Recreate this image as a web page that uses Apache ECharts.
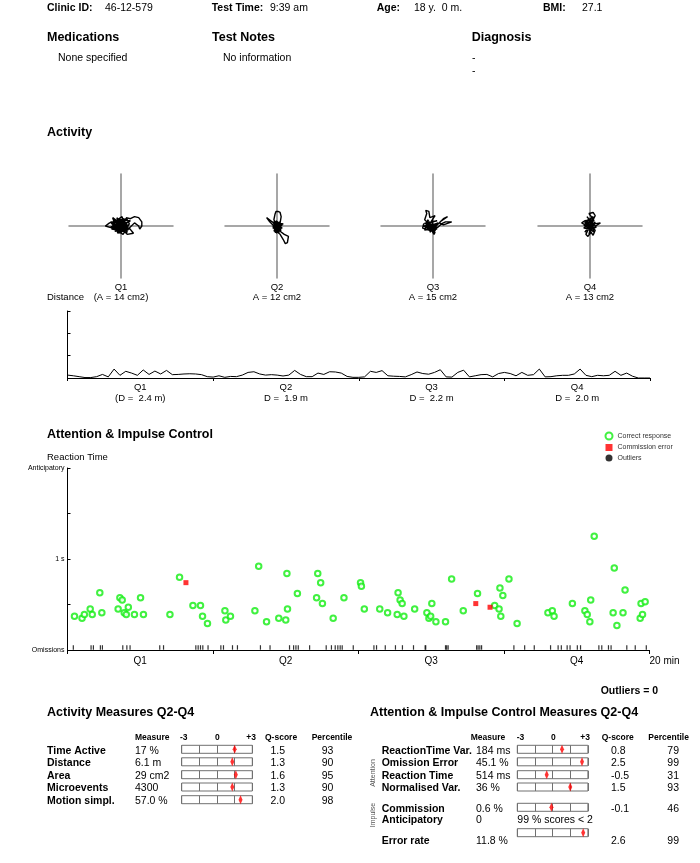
<!DOCTYPE html>
<html><head><meta charset="utf-8">
<script src="https://cdn.jsdelivr.net/npm/echarts@6/dist/echarts.min.js"></script>
<style>html,body{margin:0;padding:0;background:#fff}#c{width:700px;height:863px}</style>
</head><body><div id="c"></div>
<script>
// ---------------- DATA ----------------
const quarters = ['Q1', 'Q2', 'Q3', 'Q4'];
const areaCm2 = [14, 12, 15, 13];
const distanceM = [2.4, 1.9, 2.2, 2.0];

// head movement traces per quarter (x right, y up)
const traceQ1 = [[0,0],[-5,4],[3,7],[-2,-4],[7,-1],[-9,2],[1,9],[6,-6],[-6,-3],[9,5],[-1,6],[-11,3],[-15,0],[-8,-2],[2,-8],[8,2],[5,8],[9,7],[13,9],[17,8],[20,4],[20,0],[18,-3],[17,0],[13,3],[8,-2],[12,-7],[6,-8],[1,-3],[-4,5],[-8,8],[-3,-7],[3,3],[7,-4],[-4,1],[4,5],[-7,-1],[0,-5],[4,1],[-6,6],[-2,-2],[5,-3],[-10,-1],[2,4],
  [-10,4],[-3,-6],[6,3],[-7,6],[4,-5],[-9,-3],[2,6],[-5,0],[7,1],[-2,-7],[5,7],[-8,2],[0,4],[3,-2],[-6,-5],[8,-3],[-4,8],[1,-6],[-7,3],[3,5],[-1,-3],[6,-1],[-5,-2],[0,2]];
const traceQ2 = [[0,0],[-3,6],[-2,11],[-1,14],[1,14],[3,13],[4,9],[3,3],[-2,2],[-6,5],[-10,8],[-7,4],[-1,-2],[3,-5],[7,-8],[11,-10],[10,-16],[8,-17],[6,-13],[3,-8],[-2,-4],[3,1],[-3,-3],[5,-2],[-4,4],[2,-6],[-2,-1],[6,2],[1,3],[-3,-5],[4,-1],[-1,-7],[2,-3],
  [-4,-2],[3,4],[-2,-6],[4,-4],[-3,2],[1,-2],[5,1],[-1,5],[2,-7],[-4,0],[3,-1],[0,3]];
const traceQ3 = [[0,0],[-5,3],[-8,6],[-6,12],[-7,15],[-4,14],[-3,8],[2,10],[-2,4],[4,5],[-9,2],[-10,-2],[-4,-4],[2,-6],[1,-8],[-2,-3],[5,-1],[8,2],[12,4],[18,4],[10,1],[6,3],[10,7],[14,9],[8,5],[3,0],[-2,-5],[-6,-2],[0,2],[4,-3],[-3,1],[1,-4],[-5,6],[-8,-4],[3,-2],
  [-6,4],[2,-5],[-9,0],[4,2],[-3,-6],[0,5],[-7,-1],[5,3],[-4,-2],[1,1],[-8,3],[3,-4]];
const traceQ4 = [[0,0],[-3,4],[2,8],[-1,12],[3,13],[5,10],[3,6],[-5,5],[-8,3],[-3,0],[4,2],[10,3],[4,-1],[-2,-4],[-4,-8],[-2,-10],[1,-6],[3,-9],[5,-4],[-1,2],[-6,-2],[2,-3],[6,-1],[-3,9],[1,4],[-2,-2],[-5,-6],[4,6],
  [-4,2],[3,-2],[-2,7],[4,-6],[-6,1],[2,1],[-3,-5],[5,4],[-1,-8],[3,9],[-5,3],[1,-3]];

// distance trace, one value every 0.2 min over 20 min
const distanceTrace = [0.13,0.10,0.06,0.02,0.02,0.06,0.16,0.05,0.40,0.12,0.30,0.22,0.12,0.36,0.16,0.31,0.18,0.34,0.15,0.16,
0.18,0.19,0.18,0.15,0.06,0.04,0.10,0.03,0.07,0.06,0.13,0.25,0.28,0.18,0.13,0.15,0.13,0.09,0.13,0.34,
0.16,0.06,0.06,0.22,0.16,0.28,0.27,0.22,0.07,0.03,0.03,0.05,0.30,0.25,0.33,0.10,0.08,0.07,0.05,0.15,
0.27,0.20,0.17,0.25,0.37,0.05,0.04,0.25,0.35,0.05,0.10,0.15,0.16,0.05,0.20,0.25,0.20,0.10,0.25,0.12,
0.15,0.40,0.05,0.06,0.10,0.12,0.12,0.18,0.40,0.12,0.06,0.12,0.10,0.12,0.30,0.12,0.22,0.08,0.0,0.0,0.0];

// reaction times: [minute, seconds]
const correctResponses = [[0.24,0.37],[0.50,0.35],[0.58,0.39],[0.78,0.45],[0.85,0.39],[1.11,0.63],[1.18,0.41],[1.74,0.45],[1.80,0.575],[1.88,0.55],[1.95,0.41],[2.02,0.39],[2.09,0.47],[2.30,0.39],[2.51,0.575],[2.61,0.39],[3.52,0.39],[3.85,0.80],[4.31,0.49],[4.57,0.49],[4.64,0.37],[4.81,0.29],[5.41,0.43],[5.44,0.33],[5.60,0.37],[6.44,0.43],[6.57,0.92],[6.84,0.31],[7.26,0.35],[7.50,0.33],[7.54,0.84],[7.56,0.45],[7.90,0.62],[8.56,0.575],[8.60,0.84],[8.70,0.74],[8.76,0.51],[9.13,0.35],[9.50,0.575],[10.07,0.74],[10.10,0.70],[10.20,0.45],[10.73,0.45],[11.00,0.41],[11.33,0.39],[11.36,0.63],[11.43,0.55],[11.50,0.51],[11.56,0.37],[11.93,0.45],[12.35,0.41],[12.42,0.35],[12.48,0.37],[12.52,0.51],[12.66,0.31],[12.99,0.31],[13.20,0.78],[13.60,0.43],[14.09,0.62],[14.68,0.49],[14.83,0.45],[14.86,0.68],[14.89,0.37],[14.96,0.60],[15.17,0.78],[15.45,0.29],[16.51,0.41],[16.66,0.43],[16.72,0.37],[17.35,0.51],[17.78,0.43],[17.86,0.39],[17.95,0.31],[17.98,0.55],[18.10,1.25],[18.75,0.41],[18.79,0.90],[18.88,0.27],[19.09,0.41],[19.16,0.66],[19.68,0.35],[19.71,0.51],[19.76,0.39],[19.85,0.53]];
const commissionErrors = [[4.07,0.74],[14.03,0.51],[14.52,0.47]];
const outliers = [];
const omissionMinutes = [0.20,0.81,0.89,1.13,1.20,1.90,2.04,2.15,3.17,3.30,4.41,4.49,4.57,4.65,4.83,5.27,5.36,5.67,5.84,6.63,6.96,7.63,7.77,7.85,7.93,8.32,8.89,9.07,9.20,9.29,9.37,9.44,9.82,10.53,10.62,10.92,11.27,11.51,11.89,12.29,12.31,12.99,13.03,13.08,14.06,14.11,14.17,14.23,15.34,15.71,16.04,16.60,16.86,16.97,17.17,17.27,17.52,17.63,18.26,18.36,18.59,18.68,19.22,19.51,19.89];

// activity measures table
const actLabels = ['Time Active', 'Distance', 'Area', 'Microevents', 'Motion simpl.'];
const actMeasures = ['17 %', '6.1 m', '29 cm2', '4300', '57.0 %'];
const actQ = [1.5, 1.3, 1.6, 1.3, 2.0];
const actPct = [93, 90, 95, 90, 98];

// attention & impulse measures table
const attLabels = ['ReactionTime Var.', 'Omission Error', 'Reaction Time', 'Normalised Var.', 'Commission', 'Anticipatory', 'Error rate'];
const attMeasures = ['184 ms', '45.1 %', '514 ms', '36 %', '0.6 %', '0', '11.8 %'];
const attQ = [0.8, 2.5, -0.5, 1.5, -0.1, null, 2.6];
const attPct = [79, 99, 31, 93, 46, null, 99];
const outlierCount = 0;

// ---------------- LAYOUT ----------------
const FONT = '"Liberation Sans", Arial, sans-serif';
const quadLeft = [69, 225, 381, 538];
const quadCx = [121, 277, 433, 590];
const actRowY = [751, 763.3, 776, 788.3, 801];
const actBoxY = [749.3, 761.8, 774.7, 787, 799.7];
const attRowY = [751, 763.3, 776, 788.3, 809, 820, 840.7];
const attBoxY = [749.3, 761.8, 774.7, 787, 807.3, null, 832.7];

function T(text, x, y, size, bold, align, color, extra) {
  const el = {
    type: 'text', silent: true,
    style: {
      text: String(text), x: x, y: y,
      font: (bold ? 'bold ' : '') + size + 'px ' + FONT,
      fill: color || '#000', textAlign: align || 'left', textVerticalAlign: 'middle'
    }
  };
  if (extra) Object.assign(el, extra);
  return el;
}

const graphics = [];
// header
graphics.push(T('Clinic ID:', 47, 8.5, 10.5, true), T('46-12-579', 105, 8.5, 10.5),
  T('Test Time:', 211.7, 8.5, 10.5, true), T('9:39 am', 270, 8.5, 10.5),
  T('Age:', 376.7, 8.5, 10.5, true), T('18 y.  0 m.', 414, 8.5, 10.5),
  T('BMI:', 543, 8.5, 10.5, true), T('27.1', 582, 8.5, 10.5));
graphics.push(T('Medications', 47, 38, 12.5, true), T('Test Notes', 212, 38, 12.5, true), T('Diagnosis', 471.7, 38, 12.5, true),
  T('None specified', 58, 58, 10.5), T('No information', 223, 58, 10.5), T('-', 472, 58, 10.5), T('-', 472, 71, 10.5));
graphics.push(T('Activity', 47, 133, 12.5, true));
for (let i = 0; i < 4; i++) {
  graphics.push(T(quarters[i], quadCx[i], 287, 9.5, false, 'center'));
  const a = 'A = ' + areaCm2[i] + ' cm2';
  graphics.push(T(i === 0 ? '(' + a + ')' : a, quadCx[i], 297, 9.5, false, 'center'));
}
graphics.push(T('Distance', 47, 297, 9.5));
graphics.push(T('Attention & Impulse Control', 47, 435, 12.5, true));
graphics.push(T('Reaction Time', 47, 457, 9.5));
graphics.push(T('Outliers = ' + outlierCount, 600.7, 691, 10.5, true));
// tables
graphics.push(T('Activity Measures Q2-Q4', 47, 713, 12.5, true));
graphics.push(T('Measure', 135, 738, 8.5, true), T('-3', 180, 738, 8.5, true), T('0', 217.3, 738, 8.5, true, 'center'),
  T('+3', 256, 738, 8.5, true, 'right'), T('Q-score', 265, 738, 8.5, true), T('Percentile', 311.7, 738, 8.5, true));
for (let i = 0; i < actLabels.length; i++) {
  graphics.push(T(actLabels[i], 47, actRowY[i], 10.5, true), T(actMeasures[i], 135, actRowY[i], 10.5),
    T(actQ[i].toFixed(1), 270.5, actRowY[i], 10.5), T(actPct[i], 321.7, actRowY[i], 10.5));
}
graphics.push(T('Attention & Impulse Control Measures Q2-Q4', 370, 713, 12.5, true));
graphics.push(T('Measure', 470.7, 738, 8.5, true), T('-3', 516.7, 738, 8.5, true), T('0', 553.3, 738, 8.5, true, 'center'),
  T('+3', 590, 738, 8.5, true, 'right'), T('Q-score', 601.7, 738, 8.5, true), T('Percentile', 648.3, 738, 8.5, true));
for (let i = 0; i < attLabels.length; i++) {
  graphics.push(T(attLabels[i], 381.7, attRowY[i], 10.5, true), T(attMeasures[i], 476, attRowY[i], 10.5));
  if (attQ[i] !== null) graphics.push(T(attQ[i].toFixed(1), 611, attRowY[i], 10.5), T(attPct[i], 667.3, attRowY[i], 10.5));
}
graphics.push(T('99 % scores < 2', 517.3, 820, 10.5));
graphics.push(T('Attention', 0, 0, 7, false, 'center', '#555', { x: 372.7, y: 773, rotation: Math.PI / 2 }));
graphics.push(T('Impulse', 0, 0, 7, false, 'center', '#555', { x: 372.7, y: 815, rotation: Math.PI / 2 }));

// ---------------- CHART ----------------
const grids = [], xAxes = [], yAxes = [], series = [];
const traces = [traceQ1, traceQ2, traceQ3, traceQ4];
const gray = '#8a8a8a';
for (let i = 0; i < 4; i++) {
  grids.push({ left: quadLeft[i], top: 174, width: 104, height: 104 });
  xAxes.push({ gridIndex: i, type: 'value', min: -50, max: 50, axisLine: { onZero: true, lineStyle: { color: gray, width: 1.5 } },
    axisTick: { show: false }, axisLabel: { show: false }, splitLine: { show: false } });
  yAxes.push({ gridIndex: i, type: 'value', min: -50, max: 50, axisLine: { onZero: true, lineStyle: { color: gray, width: 1.5 } },
    axisTick: { show: false }, axisLabel: { show: false }, splitLine: { show: false } });
  series.push({ type: 'line', xAxisIndex: i, yAxisIndex: i, data: traces[i], symbol: 'none', silent: true,
    lineStyle: { color: '#000', width: 1.4 } });
}
// distance trace (grid 4)
grids.push({ left: 67.5, top: 311, width: 582.5, height: 67 });
xAxes.push({ gridIndex: 4, type: 'value', min: 0, max: 20,
  axisLine: { lineStyle: { color: '#000', width: 1 } },
  axisTick: { customValues: [0, 5, 10, 15, 20], length: 3, lineStyle: { color: '#000' } },
  axisLabel: { customValues: [2.5, 7.5, 12.5, 17.5], color: '#000', fontSize: 9.5, lineHeight: 11, margin: 4, fontFamily: FONT,
    formatter: v => { const k = Math.floor(v / 5); const d = 'D =  ' + distanceM[k].toFixed(1) + ' m'; return quarters[k] + '\n' + (k === 0 ? '(' + d + ')' : d); } },
  splitLine: { show: false } });
yAxes.push({ gridIndex: 4, type: 'value', min: 0, max: 3, interval: 1,
  axisLine: { show: true, lineStyle: { color: '#000', width: 1 } },
  axisTick: { show: true, inside: true, length: 3, lineStyle: { color: '#000' } },
  axisLabel: { show: false }, splitLine: { show: false } });
series.push({ type: 'line', xAxisIndex: 4, yAxisIndex: 4, symbol: 'none', silent: true,
  data: distanceTrace.map((v, i) => [i * 0.2, v]), lineStyle: { color: '#000', width: 1 } });

// attention scatter (grid 5)
grids.push({ left: 67.5, top: 468, width: 582, height: 182 });
xAxes.push({ gridIndex: 5, type: 'value', min: 0, max: 20,
  name: '20 min', nameLocation: 'end', nameGap: 0,
  nameTextStyle: { color: '#000', fontSize: 10, fontFamily: FONT, align: 'left', verticalAlign: 'top', padding: [6, 0, 0, 0] },
  axisLine: { lineStyle: { color: '#000', width: 1 } },
  axisTick: { customValues: [0, 5, 10, 15, 20], length: 4, lineStyle: { color: '#000' } },
  axisLabel: { customValues: [2.5, 7.5, 12.5, 17.5], color: '#000', fontSize: 10, margin: 6, fontFamily: FONT,
    formatter: v => quarters[Math.floor(v / 5)] },
  splitLine: { show: false } });
yAxes.push({ gridIndex: 5, type: 'value', min: 0, max: 2, interval: 0.5,
  axisLine: { show: true, lineStyle: { color: '#000', width: 1 } },
  axisTick: { show: true, inside: true, length: 3, lineStyle: { color: '#000' } },
  axisLabel: { color: '#000', fontSize: 7, margin: 3, fontFamily: FONT,
    formatter: v => v === 0 ? 'Omissions' : v === 1 ? '1 s' : v === 2 ? 'Anticipatory' : '' },
  splitLine: { show: false } });
series.push({ name: 'Omissions', type: 'scatter', xAxisIndex: 5, yAxisIndex: 5, symbol: 'rect', symbolSize: [1.2, 4.5], silent: true,
  itemStyle: { color: '#000' }, data: omissionMinutes.map(m => [m, 0.028]) });
series.push({ name: 'Correct response', type: 'scatter', xAxisIndex: 5, yAxisIndex: 5, symbol: 'emptyCircle', symbolSize: 5.5, silent: true,
  itemStyle: { color: '#12ee12', borderWidth: 1.2 }, data: correctResponses });
series.push({ name: 'Commission error', type: 'scatter', xAxisIndex: 5, yAxisIndex: 5, symbol: 'rect', symbolSize: 5, silent: true,
  itemStyle: { color: '#ff0000' }, data: commissionErrors });
series.push({ name: 'Outliers', type: 'scatter', xAxisIndex: 5, yAxisIndex: 5, symbol: 'circle', symbolSize: 5, silent: true,
  itemStyle: { color: '#000' }, data: outliers });

// q-score boxes
function addBox(left, cy, q) {
  const gi = grids.length;
  grids.push({ left: left, top: cy - 4, width: 70.6, height: 8, show: true, borderColor: '#707070', borderWidth: 1, backgroundColor: '#fff' });
  xAxes.push({ gridIndex: gi, type: 'value', min: -3, max: 3, interval: 1.5, axisLine: { show: false }, axisTick: { show: false },
    axisLabel: { show: false }, splitLine: { show: true, lineStyle: { color: '#707070', width: 1 } } });
  yAxes.push({ gridIndex: gi, type: 'value', min: -1, max: 1, show: false, splitLine: { show: false } });
  series.push({ type: 'scatter', xAxisIndex: gi, yAxisIndex: gi, symbol: 'diamond', symbolSize: [4, 9], silent: true,
    itemStyle: { color: '#ff0000' }, data: [[q, 0]] });
}
for (let i = 0; i < actQ.length; i++) addBox(181.7, actBoxY[i], actQ[i]);
for (let i = 0; i < attQ.length; i++) if (attQ[i] !== null) addBox(517.3, attBoxY[i], attQ[i]);

const chart = echarts.init(document.getElementById('c'), null, { renderer: 'canvas' });
chart.setOption({
  animation: false,
  backgroundColor: '#fff',
  textStyle: { fontFamily: FONT },
  legend: { orient: 'vertical', left: 604.5, top: 431.5, padding: 0, itemWidth: 7, itemHeight: 7, itemGap: 3.5,
    selectedMode: false, textStyle: { fontSize: 7, color: '#333', fontFamily: FONT },
    data: ['Correct response', 'Commission error', 'Outliers'] },
  grid: grids, xAxis: xAxes, yAxis: yAxes, series: series, graphic: graphics
});
</script></body></html>
